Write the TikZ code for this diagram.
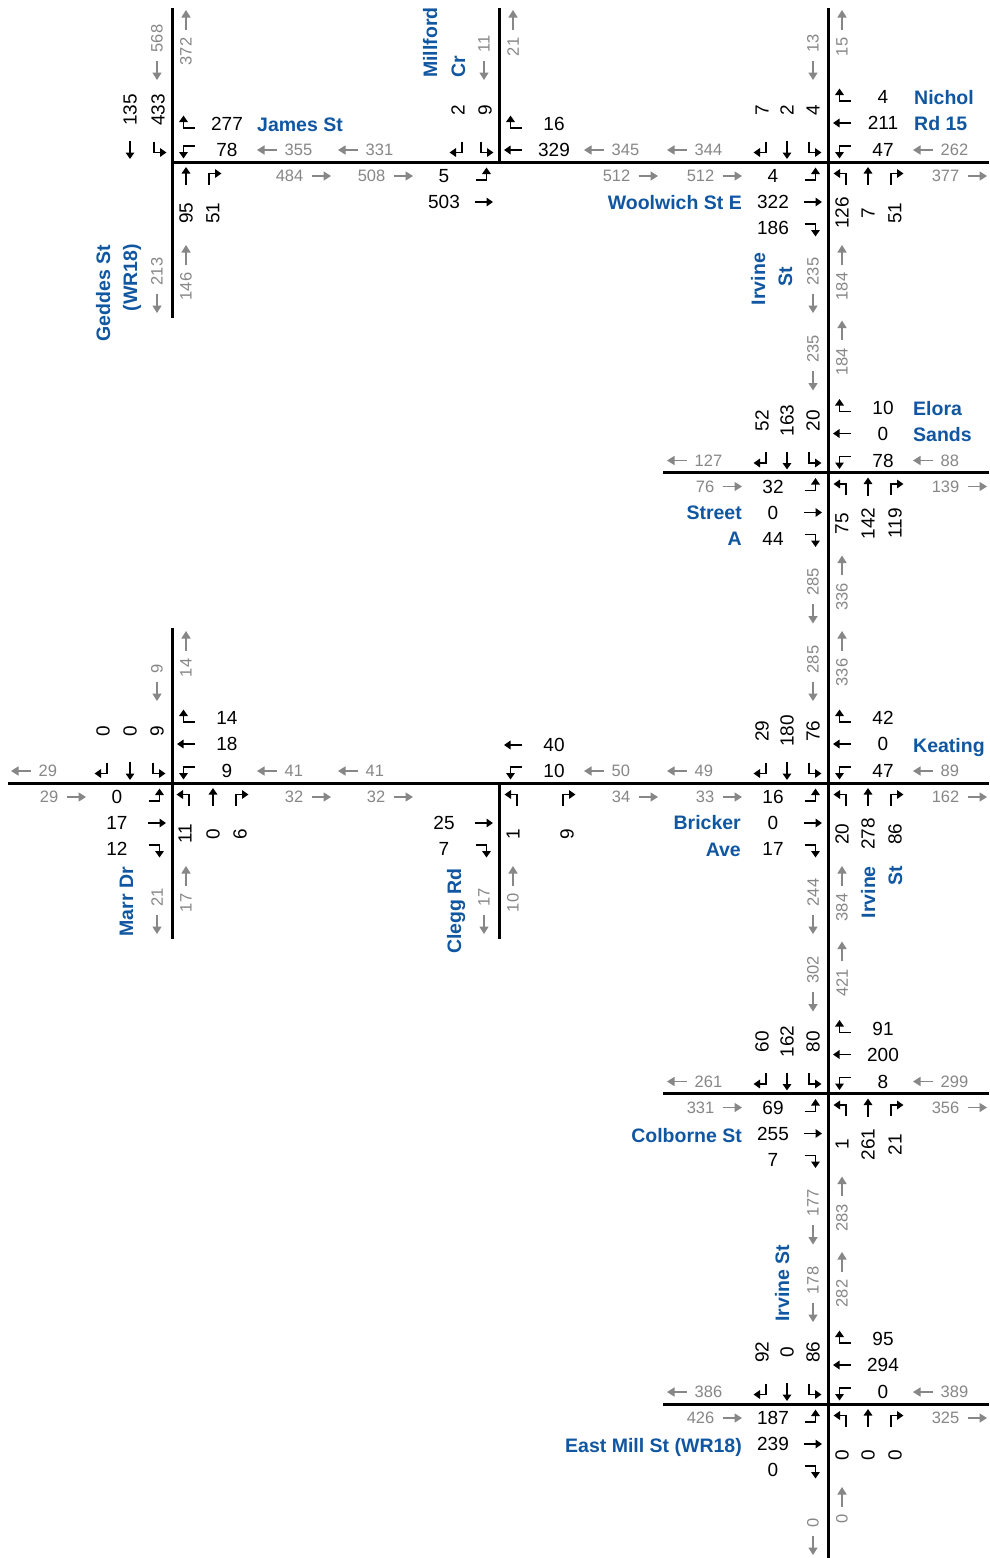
\documentclass[tikz,border=0pt]{standalone}
\usepackage{fontspec}
\setmainfont{Liberation Sans}
\usetikzlibrary{arrows.meta}
\definecolor{rdblue}{RGB}{16,86,160}
\definecolor{rdgray}{RGB}{135,135,135}
% movement counts with turn glyphs
\newcommand\tSB[3]{\pic[rotate=180] at (#1,-12) {g#2}; \node[num,rotate=90] at (#1,-52) {#3};}
\newcommand\tWB[3]{\pic[rotate=90] at (14,#1) {g#2}; \node[num] at (55,#1) {#3};}
\newcommand\tEB[3]{\pic[rotate=-90] at (-15,#1) {g#2}; \node[num] at (-55,#1) {#3};}
\newcommand\tNB[3]{\pic at (#1,14) {g#2}; \node[num,rotate=90] at (#1,51) {#3};}
% gray volume labels: tip position, value
\newcommand\vlL[3]{\draw[garr] ({#1+19.5},#2) -- (#1,#2); \node[vol,anchor=west] at ({#1+27.5},#2) {#3};}
\newcommand\vlR[3]{\draw[garr] ({#1-19.5},#2) -- (#1,#2); \node[vol,anchor=east] at ({#1-27.5},#2) {#3};}
\newcommand\vlD[3]{\draw[garr] (#1,{#2-19.5}) -- (#1,#2); \node[vol,rotate=90,anchor=west] at (#1,{#2-27.5}) {#3};}
\newcommand\vlU[3]{\draw[garr] (#1,{#2+19.5}) -- (#1,#2); \node[vol,rotate=90,anchor=east] at (#1,{#2+27.5}) {#3};}
% leg volumes
\newcommand\tWleg[2]{\vlL{-161}{-12}{#1} \vlR{-86}{14}{#2}}
\newcommand\tEleg[2]{\vlL{85}{-12}{#1} \vlR{159}{14}{#2}}
\newcommand\tNleg[2]{\vlD{-15}{-82}{#1} \vlU{14}{-152}{#2}}
\newcommand\tSleg[2]{\vlD{-15}{151}{#1} \vlU{14}{83}{#2}}
\begin{document}
\begin{tikzpicture}[x=1pt,y=-1pt,
  road/.style={line width=3pt},
  glyph/.style={line width=1.9pt,-{Triangle[length=6.5pt,width=8.5pt]}},
  garr/.style={line width=1.5pt,draw=rdgray,-{Triangle[length=7.5pt,width=9pt]}},
  num/.style={inner sep=0pt,font=\fontsize{19}{19}\selectfont},
  vol/.style={inner sep=0pt,text=rdgray,font=\fontsize{16.5}{16.5}\selectfont},
  street/.style={inner sep=0pt,text=rdblue,font=\fontsize{19.5}{19.5}\selectfont\bfseries},
  gT/.pic={\draw[glyph] (0,9) -- (0,-9);},
  gL/.pic={\draw[glyph] (4,8.5) -- (4,-2.5) -- (-8.5,-2.5);},
  gR/.pic={\draw[glyph] (-4,8.5) -- (-4,-2.5) -- (8.5,-2.5);},
]
\useasboundingbox (0,0) rectangle (989,1558);
\fill[white] (0,0) rectangle (989,1558);
% intersections
\coordinate (A) at (172,162);
\coordinate (B) at (499,162);
\coordinate (C) at (828,162);
\coordinate (D) at (828,472.5);
\coordinate (E) at (172,783);
\coordinate (F) at (499,783);
\coordinate (G) at (828,783);
\coordinate (H) at (828,1093.5);
\coordinate (I) at (828,1404);
\coordinate (An) at (172,8);   \coordinate (As) at (172,318);
\coordinate (Bn) at (499,8);
\coordinate (Cn) at (828,8);   \coordinate (Ie) at (828,1558);
\coordinate (Ce) at (989,162);
\coordinate (Dw) at (663,472.5); \coordinate (De) at (989,472.5);
\coordinate (En) at (172,628); \coordinate (Es) at (172,939); \coordinate (Ew) at (8,783);
\coordinate (Fs) at (499,939);
\coordinate (Ge) at (989,783);
\coordinate (Hw) at (663,1093.5); \coordinate (He) at (989,1093.5);
\coordinate (Iw) at (663,1404); \coordinate (Ie2) at (989,1404);
% roads
\draw[road] (An) -- (As);
\draw[road] (A) -- (Ce);
\draw[road] (Bn) -- (B);
\draw[road] (Cn) -- (Ie);
\draw[road] (Dw) -- (De);
\draw[road] (En) -- (Es);
\draw[road] (Ew) -- (Ge);
\draw[road] (F) -- (Fs);
\draw[road] (Hw) -- (He);
\draw[road] (Iw) -- (Ie2);
% A Geddes / James
\begin{scope}[shift={(A)}]
\tSB{-42}{T}{135} \tSB{-14}{L}{433}
\tWB{-38}{R}{277} \tWB{-12}{L}{78}
\tNB{14}{T}{95} \tNB{41}{R}{51}
\tNleg{568}{372} \tSleg{213}{146} \tEleg{355}{484}
\end{scope}
% B Millford / Woolwich
\begin{scope}[shift={(B)}]
\tSB{-41}{R}{2} \tSB{-14}{L}{9}
\tWB{-38}{R}{16} \tWB{-12}{T}{329}
\tEB{14}{L}{5} \tEB{40}{T}{503}
\tNleg{11}{21} \tEleg{345}{512} \tWleg{331}{508}
\end{scope}
% C Irvine / Nichol
\begin{scope}[shift={(C)}]
\tSB{-66}{R}{7} \tSB{-41}{T}{2} \tSB{-15}{L}{4}
\tWB{-65}{R}{4} \tWB{-39}{T}{211} \tWB{-12}{L}{47}
\tEB{14}{L}{4} \tEB{40}{T}{322} \tEB{66}{R}{186}
\tNB{14}{L}{126} \tNB{40}{T}{7} \tNB{67}{R}{51}
\tNleg{13}{15} \tSleg{235}{184} \tEleg{262}{377} \tWleg{344}{512}
\end{scope}
% D Elora Sands / Street A
\begin{scope}[shift={(D)}]
\tSB{-66}{R}{52} \tSB{-41}{T}{163} \tSB{-15}{L}{20}
\tWB{-65}{R}{10} \tWB{-39}{T}{0} \tWB{-12}{L}{78}
\tEB{14}{L}{32} \tEB{40}{T}{0} \tEB{66}{R}{44}
\tNB{14}{L}{75} \tNB{40}{T}{142} \tNB{67}{R}{119}
\tNleg{235}{184} \tSleg{285}{336} \tEleg{88}{139} \tWleg{127}{76}
\end{scope}
% E Marr Dr
\begin{scope}[shift={(E)}]
\tSB{-69}{R}{0} \tSB{-42}{T}{0} \tSB{-15}{L}{9}
\tWB{-65}{R}{14} \tWB{-39}{T}{18} \tWB{-12}{L}{9}
\tEB{14}{L}{0} \tEB{40}{T}{17} \tEB{66}{R}{12}
\tNB{13}{L}{11} \tNB{41}{T}{0} \tNB{68}{R}{6}
\tNleg{9}{14} \tSleg{21}{17} \tEleg{41}{32} \tWleg{29}{29}
\end{scope}
% F Clegg Rd
\begin{scope}[shift={(F)}]
\tWB{-38}{T}{40} \tWB{-12}{L}{10}
\tEB{40}{T}{25} \tEB{66}{R}{7}
\tNB{14}{L}{1} \tNB{68}{R}{9}
\tSleg{17}{10} \tEleg{50}{34} \tWleg{41}{32}
\end{scope}
% G Keating / Bricker
\begin{scope}[shift={(G)}]
\tSB{-66}{R}{29} \tSB{-41}{T}{180} \tSB{-15}{L}{76}
\tWB{-65}{R}{42} \tWB{-39}{T}{0} \tWB{-12}{L}{47}
\tEB{14}{L}{16} \tEB{40}{T}{0} \tEB{66}{R}{17}
\tNB{14}{L}{20} \tNB{40}{T}{278} \tNB{67}{R}{86}
\tNleg{285}{336} \tSleg{244}{384} \tEleg{89}{162} \tWleg{49}{33}
\end{scope}
% H Colborne
\begin{scope}[shift={(H)}]
\tSB{-66}{R}{60} \tSB{-41}{T}{162} \tSB{-15}{L}{80}
\tWB{-65}{R}{91} \tWB{-39}{T}{200} \tWB{-12}{L}{8}
\tEB{14}{L}{69} \tEB{40}{T}{255} \tEB{66}{R}{7}
\tNB{14}{L}{1} \tNB{40}{T}{261} \tNB{67}{R}{21}
\tNleg{302}{421} \tSleg{177}{283} \tEleg{299}{356} \tWleg{261}{331}
\end{scope}
% I East Mill
\begin{scope}[shift={(I)}]
\tSB{-66}{R}{92} \tSB{-41}{T}{0} \tSB{-15}{L}{86}
\tWB{-65}{R}{95} \tWB{-39}{T}{294} \tWB{-12}{L}{0}
\tEB{14}{L}{187} \tEB{40}{T}{239} \tEB{66}{R}{0}
\tNB{14}{L}{0} \tNB{40}{T}{0} \tNB{67}{R}{0}
\tNleg{178}{282} \tSleg{0}{0} \tEleg{389}{325} \tWleg{386}{426}
\end{scope}
% street names
\node[street,anchor=base west] (james) at (257,131) {James St};
\node[street,rotate=90,anchor=base east] (geddes1) at (110,245) {Geddes St};
\node[street,rotate=90,anchor=base east] (geddes2) at (137,244) {(WR18)};
\node[street,rotate=90,anchor=base west] (mill1) at (437,78) {Millford};
\node[street,rotate=90,anchor=base west] (mill2) at (465,78) {Cr};
\node[street,anchor=base west] (nichol1) at (914,104) {Nichol};
\node[street,anchor=base west] (nichol2) at (914,130) {Rd 15};
\node[street,anchor=base east] (woolwich) at (742,209) {Woolwich St E};
\node[street,rotate=90,anchor=base] (irv1a) at (765,279) {Irvine};
\node[street,rotate=90,anchor=base] (irv1b) at (792,277) {St};
\node[street,anchor=base west] (elora1) at (913,415) {Elora};
\node[street,anchor=base west] (elora2) at (913,441) {Sands};
\node[street,anchor=base east] (sta1) at (742,519) {Street};
\node[street,anchor=base east] (sta2) at (742,545) {A};
\node[street,rotate=90,anchor=base east] (marr) at (133,867) {Marr Dr};
\node[street,rotate=90,anchor=base east] (clegg) at (461,868) {Clegg Rd};
\node[street,anchor=base west] (keating) at (913,752) {Keating};
\node[street,anchor=base east] (bricker1) at (741,829) {Bricker};
\node[street,anchor=base east] (bricker2) at (741,856) {Ave};
\node[street,rotate=90,anchor=base east] (irv2a) at (875,866) {Irvine};
\node[street,rotate=90,anchor=base east] (irv2b) at (902,866) {St};
\node[street,anchor=base east] (colborne) at (742,1142) {Colborne St};
\node[street,rotate=90,anchor=base west] (irv3) at (789,1322) {Irvine St};
\node[street,anchor=base east] (eastmill) at (742,1452) {East Mill St (WR18)};
\end{tikzpicture}
\end{document}
